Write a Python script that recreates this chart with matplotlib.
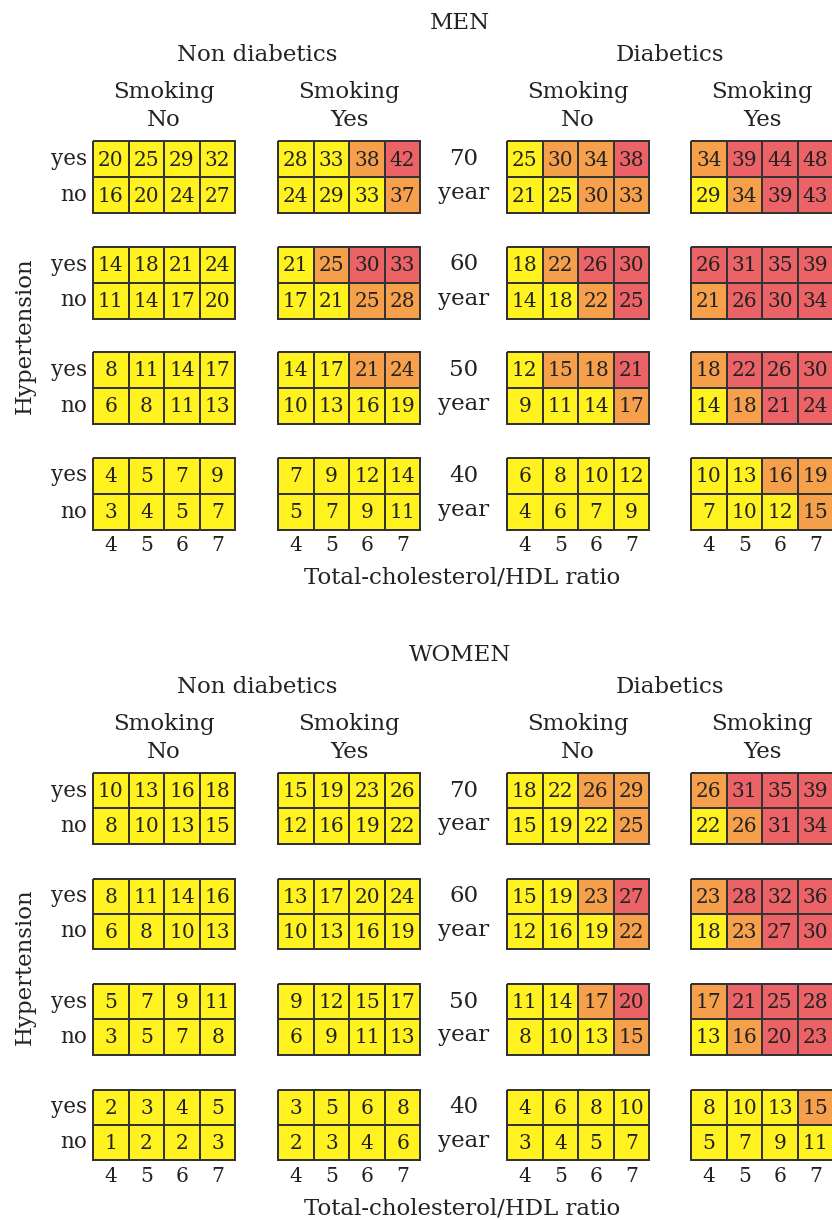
import numpy as np
import matplotlib.pyplot as plt
from matplotlib.colors import ListedColormap

plt.rcParams['font.family'] = ['DejaVu Serif']

# cholesterol ratio columns and age blocks
ratios = [4, 5, 6, 7]
ages = [70, 60, 50, 40]
groups = ['Non diabetics', 'Diabetics']
smoking = ['No', 'Yes']

# risk (%) per age block: [hypertension yes row, no row]
# order: non-diab/no smoke, non-diab/smoke, diab/no smoke, diab/smoke
men_risk = [
    [[[20, 25, 29, 32], [16, 20, 24, 27]],
     [[14, 18, 21, 24], [11, 14, 17, 20]],
     [[8, 11, 14, 17], [6, 8, 11, 13]],
     [[4, 5, 7, 9], [3, 4, 5, 7]]],
    [[[28, 33, 38, 42], [24, 29, 33, 37]],
     [[21, 25, 30, 33], [17, 21, 25, 28]],
     [[14, 17, 21, 24], [10, 13, 16, 19]],
     [[7, 9, 12, 14], [5, 7, 9, 11]]],
    [[[25, 30, 34, 38], [21, 25, 30, 33]],
     [[18, 22, 26, 30], [14, 18, 22, 25]],
     [[12, 15, 18, 21], [9, 11, 14, 17]],
     [[6, 8, 10, 12], [4, 6, 7, 9]]],
    [[[34, 39, 44, 48], [29, 34, 39, 43]],
     [[26, 31, 35, 39], [21, 26, 30, 34]],
     [[18, 22, 26, 30], [14, 18, 21, 24]],
     [[10, 13, 16, 19], [7, 10, 12, 15]]],
]
# colour class: 0 = low, 1 = medium, 2 = high
men_level = [
    [[[0, 0, 0, 0], [0, 0, 0, 0]],
     [[0, 0, 0, 0], [0, 0, 0, 0]],
     [[0, 0, 0, 0], [0, 0, 0, 0]],
     [[0, 0, 0, 0], [0, 0, 0, 0]]],
    [[[0, 0, 1, 2], [0, 0, 0, 1]],
     [[0, 1, 2, 2], [0, 0, 1, 1]],
     [[0, 0, 1, 1], [0, 0, 0, 0]],
     [[0, 0, 0, 0], [0, 0, 0, 0]]],
    [[[0, 1, 1, 2], [0, 0, 1, 1]],
     [[0, 1, 2, 2], [0, 0, 1, 2]],
     [[0, 1, 1, 2], [0, 0, 0, 1]],
     [[0, 0, 0, 0], [0, 0, 0, 0]]],
    [[[1, 2, 2, 2], [0, 1, 2, 2]],
     [[2, 2, 2, 2], [1, 2, 2, 2]],
     [[1, 2, 2, 2], [0, 1, 2, 2]],
     [[0, 0, 1, 1], [0, 0, 0, 1]]],
]
women_risk = [
    [[[10, 13, 16, 18], [8, 10, 13, 15]],
     [[8, 11, 14, 16], [6, 8, 10, 13]],
     [[5, 7, 9, 11], [3, 5, 7, 8]],
     [[2, 3, 4, 5], [1, 2, 2, 3]]],
    [[[15, 19, 23, 26], [12, 16, 19, 22]],
     [[13, 17, 20, 24], [10, 13, 16, 19]],
     [[9, 12, 15, 17], [6, 9, 11, 13]],
     [[3, 5, 6, 8], [2, 3, 4, 6]]],
    [[[18, 22, 26, 29], [15, 19, 22, 25]],
     [[15, 19, 23, 27], [12, 16, 19, 22]],
     [[11, 14, 17, 20], [8, 10, 13, 15]],
     [[4, 6, 8, 10], [3, 4, 5, 7]]],
    [[[26, 31, 35, 39], [22, 26, 31, 34]],
     [[23, 28, 32, 36], [18, 23, 27, 30]],
     [[17, 21, 25, 28], [13, 16, 20, 23]],
     [[8, 10, 13, 15], [5, 7, 9, 11]]],
]
women_level = [
    [[[0, 0, 0, 0], [0, 0, 0, 0]],
     [[0, 0, 0, 0], [0, 0, 0, 0]],
     [[0, 0, 0, 0], [0, 0, 0, 0]],
     [[0, 0, 0, 0], [0, 0, 0, 0]]],
    [[[0, 0, 0, 0], [0, 0, 0, 0]],
     [[0, 0, 0, 0], [0, 0, 0, 0]],
     [[0, 0, 0, 0], [0, 0, 0, 0]],
     [[0, 0, 0, 0], [0, 0, 0, 0]]],
    [[[0, 0, 1, 1], [0, 0, 0, 1]],
     [[0, 0, 1, 2], [0, 0, 0, 1]],
     [[0, 0, 1, 2], [0, 0, 0, 1]],
     [[0, 0, 0, 0], [0, 0, 0, 0]]],
    [[[1, 2, 2, 2], [0, 1, 2, 2]],
     [[1, 2, 2, 2], [0, 1, 2, 2]],
     [[1, 2, 2, 2], [0, 1, 2, 2]],
     [[0, 0, 0, 1], [0, 0, 0, 0]]],
]

cmap = ListedColormap(['#fff21e', '#f6a04c', '#ec6367'])
ink = '#222222'

W, H = 832, 1220
fig = plt.figure(figsize=(W / 100, H / 100), dpi=100)
ax = fig.add_axes([0, 0, 1, 1])
ax.set_xlim(0, W)
ax.set_ylim(H, 0)
ax.axis('off')

# layout in pixels
grid_left = [93, 278, 507, 691]
cw = 35.6
fs_cell = 14.5
fs_head = 16.5


def txt(x, y, s, fs, **kw):
    ax.text(x, y, s, ha=kw.pop('ha', 'center'), va='center', fontsize=fs,
            color=ink, **kw)


def panel(y0, title, risk, level, ch):
    block_top = [y0 + i * 105.5 for i in range(4)]
    txt(460, y0 - 118, title, fs_head)
    for g, gname in enumerate(groups):
        cx = (grid_left[2 * g] + grid_left[2 * g + 1]) / 2 + 2 * cw
        txt(cx, y0 - 86, gname, fs_head)
    for k in range(4):
        cx = grid_left[k] + 2 * cw
        txt(cx, y0 - 49, 'Smoking', fs_head)
        txt(cx, y0 - 21, smoking[k % 2], fs_head)
    for b, top in enumerate(block_top):
        for k in range(4):
            xs = grid_left[k] + np.arange(5) * cw
            ys = top + np.arange(3) * ch
            lv = np.array(level[k][b])
            ax.pcolormesh(xs, ys, lv, cmap=cmap, vmin=0, vmax=2,
                          edgecolors='#333333', linewidth=1.2)
            for r in range(2):
                for c in range(4):
                    txt(xs[c] + cw / 2, ys[r] + ch / 2 + 1,
                        str(risk[k][b][r][c]), fs_cell)
        txt(87, top + ch / 2, 'yes', fs_cell + 1, ha='right')
        txt(87, top + 1.5 * ch, 'no', fs_cell + 1, ha='right')
        mid = (grid_left[1] + 4 * cw + grid_left[2]) / 2
        txt(mid, top + ch / 2, str(ages[b]), fs_head)
        txt(mid, top + 1.45 * ch, 'year', fs_head)
    bottom = block_top[-1] + 2 * ch
    for k in range(4):
        for c, rt in enumerate(ratios):
            txt(grid_left[k] + (c + 0.5) * cw, bottom + 16, str(rt), fs_cell)
    txt(462, bottom + 48, 'Total-cholesterol/HDL ratio', fs_head)
    txt(25, (block_top[0] + bottom) / 2, 'Hypertension', fs_head, rotation=90)


panel(141, 'MEN', men_risk, men_level, 36)
panel(773, 'WOMEN', women_risk, women_level, 35.3)

fig.savefig('out.png', dpi=100)
